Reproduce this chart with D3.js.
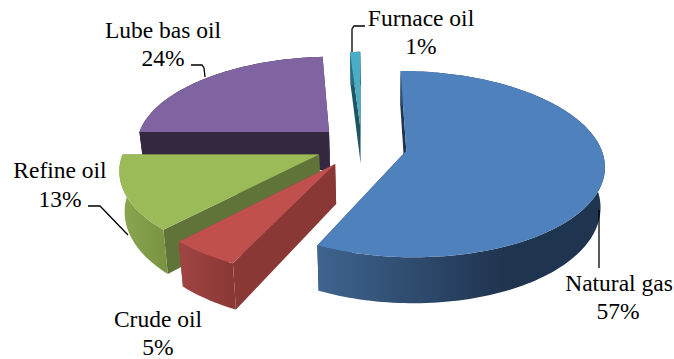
<!DOCTYPE html>
<html>
<head>
<meta charset="utf-8">
<script src="https://cdn.jsdelivr.net/npm/d3@7/dist/d3.min.js"></script>
<style>
html, body { margin: 0; padding: 0; background: #fff; }
svg { display: block; }
text { font-family: "Liberation Serif", serif; font-size: 23.5px; fill: #000; text-anchor: middle; }
</style>
</head>
<body>
<svg id="chart" width="674" height="359"></svg>
<script>
// Share of each fuel, in percent, clockwise from twelve o'clock
const categories = ["Natural gas", "Crude oil", "Refine oil", "Lube bas oil", "Furnace oil"];
const shares = [57, 5, 13, 24, 1];

const topColors = ["#4f81bd", "#c0504d", "#9bbb59", "#8064a2", "#4bacc6"];
const edgeColors = ["#1f344f", "#8a3836", "#60743a", "#33283f", "#1c5563"];
const rimLight = ["#3f648f", "#a04542", "#8ba84f", "#33283f", "#2d7486"];
const rimDark = ["#1f344f", "#8a3836", "#7a9444", "#33283f", "#1c5563"];

// Painter's order: far slices first
const drawOrder = [3, 4, 2, 1, 0];

const svg = d3.select("#chart");
const defs = svg.append("defs");

// Tilted-disk projection: v grows towards the viewer, and near points are enlarged
const centre = { x: 361.5, y: 146 };
const radius = { x: 194, y: 89.8 };
const perspective = 0.144;
const explode = 0.235;
const depth = 39;
const taperX = 385, taper = 0.98;

const project = (u, v) => {
  const w = 1 / (1 - perspective * v);
  return [centre.x + radius.x * u * w, centre.y + radius.y * v * w];
};
const lower = (u, v) => {
  const w = 1 / (1 - perspective * v);
  const [x, y] = project(u, v);
  return [taperX + (x - taperX) * taper, y + depth * w];
};

const arcs = d3.pie().sort(null).value(d => d)(shares);
const path = d3.line();

// Slice geometry in disk coordinates
const slices = arcs.map((a, i) => {
  const mid = (a.startAngle + a.endAngle) / 2;
  const ou = explode * Math.sin(mid), ov = -explode * Math.cos(mid);
  const steps = Math.max(4, Math.ceil((a.endAngle - a.startAngle) * 40));
  const rim = d3.range(steps + 1).map(k => {
    const t = a.startAngle + (a.endAngle - a.startAngle) * k / steps;
    return [ou + Math.sin(t), ov - Math.cos(t)];
  });
  return { i, apex: [ou, ov], rim, mid };
});

slices.forEach(s => {
  const xs = s.rim.map(p => project(p[0], p[1])[0]);
  const grad = defs.append("linearGradient")
    .attr("id", "rim" + s.i)
    .attr("gradientUnits", "userSpaceOnUse")
    .attr("x1", d3.min(xs)).attr("x2", d3.max(xs))
    .attr("y1", 0).attr("y2", 0);
  grad.append("stop").attr("offset", 0).attr("stop-color", rimLight[s.i]);
  grad.append("stop").attr("offset", s.i === 0 ? 0.65 : 1).attr("stop-color", rimDark[s.i]);
  if (s.i === 0) grad.append("stop").attr("offset", 1).attr("stop-color", rimDark[s.i]);
});

const g = svg.append("g");

drawOrder.forEach(i => {
  const s = slices[i];
  const first = s.rim[0], last = s.rim[s.rim.length - 1];
  const wall = (a, b) => [project(...a), project(...b), lower(...b), lower(...a)];

  // Flat cut faces
  [first, last].forEach(end => {
    g.append("path")
      .attr("d", path(wall(s.apex, end)) + "Z")
      .attr("fill", edgeColors[i]);
  });

  // Curved outer wall
  const rimPoly = s.rim.map(p => project(...p))
    .concat(s.rim.slice().reverse().map(p => lower(...p)));
  g.append("path")
    .attr("d", path(rimPoly) + "Z")
    .attr("fill", `url(#rim${i})`);

  // Top face
  const top = [project(...s.apex)].concat(s.rim.map(p => project(...p)));
  g.append("path")
    .attr("d", path(top) + "Z")
    .attr("fill", topColors[i]);
});

// Label text: name on the first line, share on the second
const labelLayout = [
  { x: 619, y: 291, x2: 618, y2: 319 },
  { x: 158, y: 327, x2: 158, y2: 355 },
  { x: 60, y: 178, x2: 60, y2: 207 },
  { x: 163, y: 38, x2: 163, y2: 66 },
  { x: 421, y: 26, x2: 421, y2: 54 }
];
labelLayout.forEach((l, i) => {
  svg.append("text").attr("x", l.x).attr("y", l.y).text(categories[i]);
  svg.append("text").attr("x", l.x2).attr("y", l.y2).text(shares[i] + "%");
});

// Leader lines from the labels to their slices
const leaders = [
  [[599, 210], [599, 268]],
  [[128, 235], [100, 206], [88, 206]],
  [[205, 77], [204, 68], [202, 65], [191, 65]],
  [[352, 52], [352, 29], [354, 26], [365, 26]]
];
leaders.forEach(pts => {
  svg.append("path")
    .attr("d", path(pts))
    .attr("fill", "none")
    .attr("stroke", "#000")
    .attr("stroke-width", 1.3);
});
</script>
</body>
</html>
